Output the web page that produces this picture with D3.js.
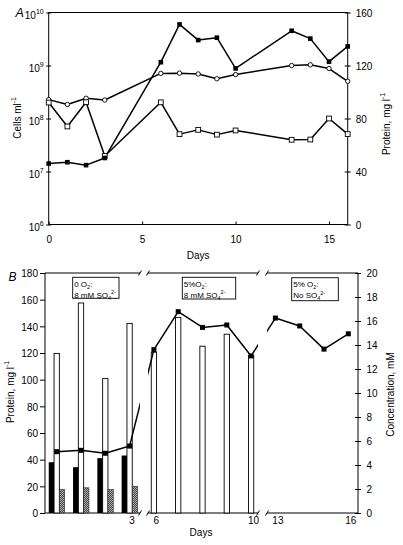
<!DOCTYPE html>
<html><head><meta charset="utf-8">
<script src="https://cdn.jsdelivr.net/npm/d3@7"></script>
<style>
body{margin:0;background:#fff}
svg{display:block}
text{font-family:"Liberation Sans",Arial,Helvetica,sans-serif;fill:#000}
</style>
</head><body>
<svg id="c" width="403" height="545"></svg>
<script>
// ---------- DATA ----------
// Panel A
const daysA = [0, 1, 2, 3, 6, 7, 8, 9, 10, 13, 14, 15, 16];
const protein = [46, 47, 44.8, 50.2, 122.5, 151, 139.2, 141, 117.8, 146.2, 140.3, 122.9, 134.4]; // mg/l, filled squares
const cellsCircle = [2.27e8, 1.84e8, 2.41e8, 2.23e8, 7.1e8, 7.17e8, 6.93e8, 5.63e8, 6.75e8, 1.0e9, 1.03e9, 8.77e8, 5.04e8];
const cellsSquare = [2.0e8, 7.08e7, 2.03e8, 1.96e7, 2.02e8, 5.07e7, 6.1e7, 4.96e7, 5.95e7, 3.97e7, 4.01e7, 1.0e8, 5.08e7];
const xTicksA = [0, 5, 10, 15];
const logTicksA = [1e6, 1e7, 1e8, 1e9, 1e10];
const protTicksA = [0, 40, 80, 120, 160];

// Panel B
const openBarDays = [0, 1, 2, 3, 6, 7, 8, 9, 10];
const openBar = [13.3, 17.5, 11.2, 15.8, 13.4, 16.3, 13.9, 14.9, 13.1];   // mM
const smallBarDays = [0, 1, 2, 3];
const blackBar = [4.23, 3.82, 4.57, 4.79];   // mM
const hatchBar = [1.96, 2.1, 1.96, 2.23];    // mM
const xLabelsB = [3, 6, 10, 13, 16];
const protTicksB = [0, 20, 40, 60, 80, 100, 120, 140, 160, 180];
const concTicksB = [0, 2, 4, 6, 8, 10, 12, 14, 16, 18, 20];
const legendLines = [
  [[["0 O"], ["2", "sub"], [":"]], [["8 mM SO"], ["4", "sub"], ["2-", "sup"]]],
  [[["5%O"], ["2", "sub"], [":"]], [["8 mM SO"], ["4", "sub"], ["2-", "sup"]]],
  [[["5% O"], ["2", "sub"], [":"]], [["No SO"], ["4", "sub"], ["2-", "sup"]]]
];

// ---------- LAYOUT ----------
const svg = d3.select("#c");
const FS = 10;
function richText(g, x, y, parts, fs) {
  const t = g.append("text").attr("x", x).attr("y", y).attr("font-size", fs);
  let off = 0;
  parts.forEach(([s, mode]) => {
    const target = mode === "sub" ? fs * 0.28 : mode === "sup" ? -fs * 0.42 : 0;
    const ts = t.append("tspan").attr("dy", target - off).text(s);
    if (mode) ts.attr("font-size", fs * 0.68);
    off = target;
  });
  return t;
}
function styleAxis(g) {
  g.select(".domain").remove();
  g.selectAll(".tick line").attr("stroke", "#000").attr("stroke-width", 1);
  g.selectAll(".tick text").attr("font-size", FS).attr("font-family", null);
  g.attr("font-family", null).attr("font-size", null);
}

// ===== Panel A =====
const A = {x0: 48.7, x1: 347.7, top: 12.5, bottom: 224.5};
const xA = d3.scaleLinear().domain([0, 16]).range([A.x0, A.x1]);
const yLog = d3.scaleLog().domain([1e6, 1e10]).range([A.bottom, A.top]);
const yProt = d3.scaleLinear().domain([0, 160]).range([A.bottom, A.top]);
const gA = svg.append("g");

gA.append("rect").attr("x", A.x0).attr("y", A.top).attr("width", A.x1 - A.x0).attr("height", A.bottom - A.top)
  .attr("fill", "none").attr("stroke", "#000").attr("stroke-width", 1);

// left log axis
const axL = gA.append("g").attr("transform", `translate(${A.x0},0)`)
  .call(d3.axisLeft(yLog).tickValues(logTicksA).tickSizeOuter(0).tickSize(2.5));
styleAxis(axL);
axL.selectAll(".tick line").attr("x1", -2.5).attr("x2", 2.5);
axL.selectAll(".tick text").each(function(d) {
  const t = d3.select(this).text(null).attr("x", -5).attr("dy", null).attr("y", 5.5).attr("text-anchor", "end");
  t.append("tspan").text("10");
  t.append("tspan").attr("dy", -4.5).attr("font-size", 7).text(Math.round(Math.log10(d)));
});
// right protein axis
const axR = gA.append("g").attr("transform", `translate(${A.x1},0)`)
  .call(d3.axisRight(yProt).tickValues(protTicksA).tickSizeOuter(0).tickSize(3).tickPadding(5));
styleAxis(axR);
axR.selectAll(".tick line").attr("x1", -3).attr("x2", 3);
axR.selectAll(".tick text").attr("x", 8).attr("dy", null).attr("y", 3.7);
// bottom axis
const axB = gA.append("g").attr("transform", `translate(0,${A.bottom})`)
  .call(d3.axisBottom(xA).tickValues(xTicksA).tickSizeOuter(0).tickSize(3));
styleAxis(axB);
axB.selectAll(".tick line").attr("y1", 0).attr("y2", -3);
axB.selectAll(".tick text").attr("dy", null).attr("y", 18);

gA.append("text").attr("x", (A.x0 + A.x1) / 2).attr("y", 258.5).attr("text-anchor", "middle").attr("font-size", FS).text("Days");
richText(gA, 0, 0, [["Cells ml"], ["-1", "sup"]], FS).attr("text-anchor", "middle").attr("transform", "translate(20.5,118) rotate(-90)");
richText(gA, 0, 0, [["Protein, mg l"], ["-1", "sup"]], FS).attr("text-anchor", "middle").attr("transform", "translate(389.5,124) rotate(-90)");
gA.append("text").attr("x", 15.5).attr("y", 17).attr("font-size", 12.5).attr("font-style", "italic").text("A");

const recsA = daysA.map((d, i) => ({d, p: protein[i], c: cellsCircle[i], s: cellsSquare[i]}));
const lineStyle = s => s.attr("fill", "none").attr("stroke", "#000").attr("stroke-width", 1.5).attr("stroke-linejoin", "round");
gA.append("path").datum(recsA).call(lineStyle).attr("d", d3.line().x(r => xA(r.d)).y(r => yLog(r.c)));
gA.append("path").datum(recsA).call(lineStyle).attr("d", d3.line().x(r => xA(r.d)).y(r => yLog(r.s)));
gA.append("path").datum(recsA).call(lineStyle).attr("d", d3.line().x(r => xA(r.d)).y(r => yProt(r.p)));
gA.selectAll(".oc").data(recsA).join("circle").attr("cx", r => xA(r.d)).attr("cy", r => yLog(r.c)).attr("r", 2.2)
  .attr("fill", "#fff").attr("stroke", "#000").attr("stroke-width", 0.9);
gA.selectAll(".os").data(recsA).join("rect").attr("x", r => xA(r.d) - 2.4).attr("y", r => yLog(r.s) - 2.4)
  .attr("width", 4.8).attr("height", 4.8).attr("fill", "#fff").attr("stroke", "#000").attr("stroke-width", 0.9);
gA.selectAll(".fs").data(recsA).join("rect").attr("x", r => xA(r.d) - 2.3).attr("y", r => yProt(r.p) - 2.3)
  .attr("width", 4.6).attr("height", 4.6).attr("fill", "#000");

// ===== Panel B =====
const B = {left: 45, right: 358, top: 273, bottom: 513, segs: [[45, 140], [148, 258], [267, 358]]};
const unitB = 24.3, startB = 56.7;
const xB = d3.scaleLinear().domain([0, 3, 6, 10, 13, 16]).range([0, 3, 4, 8, 9, 12].map(v => startB + unitB * v));
const yProtB = d3.scaleLinear().domain([0, 180]).range([B.bottom, B.top]);
const yConc = d3.scaleLinear().domain([0, 20]).range([B.bottom, B.top]);
const gB = svg.append("g");
const defs = svg.append("defs");
const pat = defs.append("pattern").attr("id", "hatch").attr("patternUnits", "userSpaceOnUse").attr("width", 2).attr("height", 2);
pat.append("rect").attr("width", 2).attr("height", 2).attr("fill", "#aaa");
pat.append("path").attr("d", "M0,2L2,0").attr("stroke", "#333").attr("stroke-width", 0.8);
const clip = defs.append("clipPath").attr("id", "segclip");
B.segs.forEach(s => clip.append("rect").attr("x", s[0]).attr("y", 0).attr("width", s[1] - s[0]).attr("height", 545));

// frame pieces
gB.append("line").attr("x1", B.left).attr("x2", B.left).attr("y1", B.top).attr("y2", B.bottom).attr("stroke", "#000");
gB.append("line").attr("x1", B.right).attr("x2", B.right).attr("y1", B.top).attr("y2", B.bottom).attr("stroke", "#000");
[B.top, B.bottom].forEach(y => {
  B.segs.forEach((s, i) => {
    gB.append("line").attr("x1", s[0]).attr("x2", s[1]).attr("y1", y).attr("y2", y).attr("stroke", "#000").attr("stroke-width", 1.1);
    if (i > 0) gB.append("line").attr("x1", s[0] - 1.5).attr("x2", s[0] + 1.5).attr("y1", y + 2.5).attr("y2", y - 2.5).attr("stroke", "#000");
    if (i < B.segs.length - 1) gB.append("line").attr("x1", s[1] - 1.5).attr("x2", s[1] + 1.5).attr("y1", y + 2.5).attr("y2", y - 2.5).attr("stroke", "#000");
  });
});

const axBL = gB.append("g").attr("transform", `translate(${B.left},0)`)
  .call(d3.axisLeft(yProtB).tickValues(protTicksB).tickSizeOuter(0).tickSize(5).tickPadding(2));
styleAxis(axBL);
axBL.selectAll(".tick text").attr("dy", null).attr("y", 3.8);
const axBR = gB.append("g").attr("transform", `translate(${B.right},0)`)
  .call(d3.axisRight(yConc).tickValues(concTicksB).tickSizeOuter(0).tickSize(3).tickPadding(5));
styleAxis(axBR);
axBR.selectAll(".tick line").attr("x1", -3).attr("x2", 3);
axBR.selectAll(".tick text").attr("x", 8.5).attr("dy", null).attr("y", 3.6);
const axBB = gB.append("g").attr("transform", `translate(0,${B.bottom})`)
  .call(d3.axisBottom(xB).tickValues(xLabelsB).tickSizeOuter(0).tickSize(0));
styleAxis(axBB);
axBB.selectAll(".tick text").attr("dy", null).attr("y", 10.5).attr("dx", 2);

gB.append("text").attr("x", 201).attr("y", 536).attr("text-anchor", "middle").attr("font-size", FS).text("Days");
gB.append("text").attr("x", 8.5).attr("y", 280.5).attr("font-size", 12).attr("font-style", "italic").text("B");
richText(gB, 0, 0, [["Protein, mg l"], ["-1", "sup"]], FS).attr("text-anchor", "middle").attr("transform", "translate(13.5,392) rotate(-90)");
gB.append("text").attr("text-anchor", "middle").attr("font-size", FS).attr("transform", "translate(393.5,394.5) rotate(-90)").text("Concentration, mM");

// bars
const bw = 5.3;
const openRecs = openBarDays.map((d, i) => ({d, v: openBar[i]}));
const smallRecs = smallBarDays.map((d, i) => ({d, b: blackBar[i], h: hatchBar[i]}));
gB.selectAll(".ob").data(openRecs).join("rect").attr("x", r => xB(r.d) - bw / 2).attr("y", r => yConc(r.v))
  .attr("width", bw).attr("height", r => yConc(0) - yConc(r.v)).attr("fill", "#fff").attr("stroke", "#000").attr("stroke-width", 0.9);
gB.selectAll(".bb").data(smallRecs).join("rect").attr("x", r => xB(r.d) - bw / 2 - bw).attr("y", r => yConc(r.b))
  .attr("width", bw).attr("height", r => yConc(0) - yConc(r.b)).attr("fill", "#000");
gB.selectAll(".hb").data(smallRecs).join("rect").attr("x", r => xB(r.d) + bw / 2).attr("y", r => yConc(r.h))
  .attr("width", bw).attr("height", r => yConc(0) - yConc(r.h)).attr("fill", "url(#hatch)").attr("stroke", "#222").attr("stroke-width", 0.6);

// protein line (broken axis)
const recsB = daysA.map((d, i) => ({d, p: protein[i]}));
gB.append("path").datum(recsB).attr("clip-path", "url(#segclip)").call(lineStyle)
  .attr("d", d3.line().x(r => xB(r.d)).y(r => yProtB(r.p)));
gB.selectAll(".bs").data(recsB).join("rect").attr("x", r => xB(r.d) - 2.5).attr("y", r => yProtB(r.p) - 2.5)
  .attr("width", 5).attr("height", 5).attr("fill", "#000");

// legend boxes
const boxes = [{x: 72.7, y: 277.3, w: 46.3, h: 21}, {x: 182.3, y: 277.3, w: 53.4, h: 21.7}, {x: 291.7, y: 277.7, w: 46.6, h: 23}];
boxes.forEach((b, i) => {
  gB.append("rect").attr("x", b.x).attr("y", b.y).attr("width", b.w).attr("height", b.h)
    .attr("fill", "#fff").attr("stroke", "#000").attr("stroke-width", 0.9);
  richText(gB, b.x + 1.5, b.y + 9.5, legendLines[i][0], 8);
  richText(gB, b.x + 1.5, b.y + 20.5, legendLines[i][1], 8);
});
</script>
</body></html>
